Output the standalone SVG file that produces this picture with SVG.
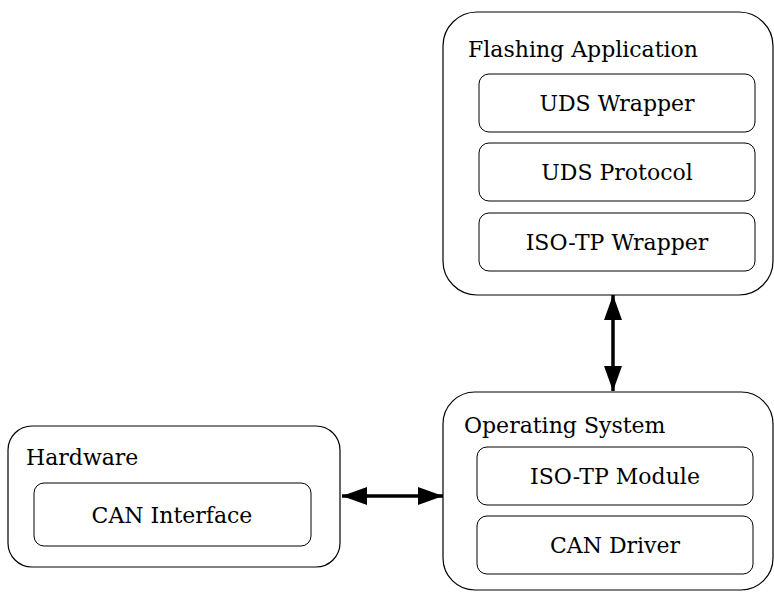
<svg xmlns="http://www.w3.org/2000/svg" width="774" height="592" viewBox="0 0 774 592">
<style>
.outer{fill:#fff;stroke:#000;stroke-width:1.2}
.inner{fill:#fff;stroke:#000;stroke-width:1}
.title{font-family:"DejaVu Serif",serif;font-size:22px;fill:#000}
.label{font-family:"DejaVu Serif",serif;font-size:22px;fill:#000;text-anchor:middle}
.conn{stroke:#000;stroke-width:3.5;fill:none}
</style>
<defs>
<marker id="ah" viewBox="0 0 25 18" refX="25" refY="9" markerWidth="25" markerHeight="18" markerUnits="userSpaceOnUse" orient="auto-start-reverse">
<path d="M0,0 L25,9 L0,18 Z" fill="#000"/>
</marker>
</defs>
<rect width="774" height="592" fill="#fff"/>
<g id="flashing-application">
<rect class="outer" x="443" y="12" width="330" height="283" rx="34"/>
<text class="title" x="468" y="57">Flashing Application</text>
</g>
<g id="uds-wrapper">
<rect class="inner" x="479" y="74" width="276" height="58" rx="10"/>
<text class="label" x="617" y="111">UDS Wrapper</text>
</g>
<g id="uds-protocol">
<rect class="inner" x="479" y="143" width="276" height="58" rx="10"/>
<text class="label" x="617" y="180">UDS Protocol</text>
</g>
<g id="isotp-wrapper">
<rect class="inner" x="479" y="213" width="276" height="58" rx="10"/>
<text class="label" x="617" y="250">ISO-TP Wrapper</text>
</g>
<g id="operating-system">
<rect class="outer" x="443" y="392" width="330" height="198" rx="32"/>
<text class="title" x="464" y="433">Operating System</text>
</g>
<g id="isotp-module">
<rect class="inner" x="477" y="447" width="276" height="58" rx="10"/>
<text class="label" x="615" y="484">ISO-TP Module</text>
</g>
<g id="can-driver">
<rect class="inner" x="477" y="516" width="276" height="58" rx="10"/>
<text class="label" x="615" y="553">CAN Driver</text>
</g>
<g id="hardware">
<rect class="outer" x="8" y="426" width="332" height="141" rx="24"/>
<text class="title" x="26" y="465">Hardware</text>
</g>
<g id="can-interface">
<rect class="inner" x="34" y="483" width="277" height="63" rx="10"/>
<text class="label" x="172" y="523">CAN Interface</text>
</g>
<g id="connectors">
<line class="conn" x1="613" y1="295" x2="613" y2="391" marker-start="url(#ah)" marker-end="url(#ah)"/>
<line class="conn" x1="342" y1="496" x2="443" y2="496" marker-start="url(#ah)" marker-end="url(#ah)"/>
</g>
</svg>
